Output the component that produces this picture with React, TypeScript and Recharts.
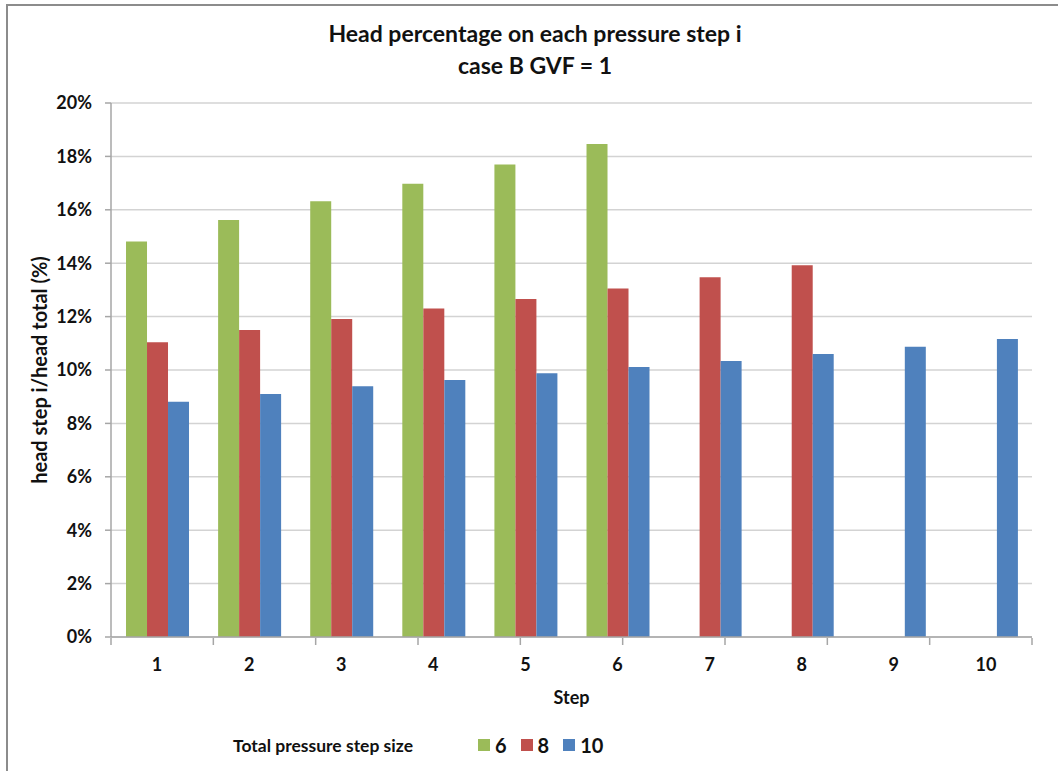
import { Bar, BarChart, CartesianGrid, Legend, XAxis, YAxis } from 'recharts';

const steps = ['1', '2', '3', '4', '5', '6', '7', '8', '9', '10'];
const size6 = [14.81, 15.62, 16.32, 16.98, 17.7, 18.46, null, null, null, null];
const size8 = [11.04, 11.5, 11.91, 12.3, 12.66, 13.05, 13.47, 13.92, null, null];
const size10 = [8.81, 9.1, 9.39, 9.63, 9.88, 10.11, 10.34, 10.6, 10.87, 11.16];
const seriesNames = ['6', '8', '10'];
const yTicks = [0, 2, 4, 6, 8, 10, 12, 14, 16, 18, 20];
const boundaryTicks = [0, 1, 2, 3, 4, 5, 6, 7, 8, 9, 10];

const data = steps.map((s, i) => ({ step: s, s6: size6[i], s8: size8[i], s10: size10[i] }));

const font = 'Lato, "Open Sans", sans-serif';
const axisGray = '#a6a6a6';

function LegendBox({ payload }: any) {
  const items = seriesNames.map((n) => (payload || []).find((p: any) => p.value === n)).filter(Boolean);
  return <div style={{ display: 'flex', alignItems: 'center', fontFamily: font, fontWeight: 700, color: '#111' }}>
    <span style={{ fontSize: 17.5, marginRight: 65 }}>Total pressure step size</span>
    {items.map((p: any) => (
      <span key={p.value} style={{ display: 'flex', alignItems: 'center', marginRight: 14 }}>
        <span style={{ width: 12, height: 12, background: p.color, display: 'inline-block', marginRight: 5 }} />
        <span style={{ fontSize: 20 }}>{p.value}</span>
      </span>
    ))}
  </div>;
}

export default function App() {
  return <div style={{ position: 'absolute', left: 0, top: 0, width: 1058, height: 771, background: '#fff', overflow: 'hidden' }}>
    <div style={{ position: 'absolute', left: 6, top: 4, width: 1100, height: 800, borderTop: '2px solid #8c8c8c', borderLeft: '2px solid #8c8c8c' }} />
    <div style={{ position: 'absolute', left: 0, top: 17, width: 1070, textAlign: 'center', fontFamily: font, fontWeight: 700, fontSize: 23, lineHeight: '32px', color: '#111' }}>
      <div>Head percentage on each pressure step i</div>
      <div>case B GVF = 1</div>
    </div>
    <div style={{ position: 'absolute', left: 0, top: 0 }}>
      <BarChart width={1058} height={771} data={data} margin={{ top: 103, right: 26, bottom: 132, left: 0 }}
        barCategoryGap="16.3%" barGap={0}>
        <CartesianGrid vertical={false} stroke="#d3d3d3" strokeWidth={1.5} />
        <XAxis xAxisId="bounds" type="number" domain={[0, 10]} ticks={boundaryTicks} height={1}
          tickFormatter={() => ''} axisLine={false} tickSize={7} tickLine={{ stroke: axisGray, strokeWidth: 1.5 }} />
        <XAxis dataKey="step" height={1} tickLine={false} tickSize={0} tickMargin={21}
          axisLine={{ stroke: axisGray, strokeWidth: 1.5 }}
          tick={{ fontFamily: font, fontWeight: 700, fontSize: 18, fill: '#111' }}
          label={{ content: ({ viewBox }: any) => <text x={viewBox.x + viewBox.width / 2} y={704} textAnchor="middle"
            style={{ fontFamily: font, fontWeight: 700, fontSize: 18, fill: '#111' }}>Step</text> }} />
        <YAxis width={111} domain={[0, 20]} ticks={yTicks} tickFormatter={(v: number) => `${v}%`}
          tickSize={6} tickMargin={13} tickLine={{ stroke: axisGray, strokeWidth: 1.5 }}
          axisLine={{ stroke: axisGray, strokeWidth: 1.5 }}
          tick={{ fontFamily: font, fontWeight: 700, fontSize: 18, fill: '#111' }}
          label={{ content: ({ viewBox }: any) => <text x={39} y={viewBox.y + viewBox.height / 2} textAnchor="middle"
            dominantBaseline="central" transform={`rotate(-90, 39, ${viewBox.y + viewBox.height / 2})`}
            style={{ fontFamily: font, fontWeight: 700, fontSize: 20, fill: '#111' }}>head step i/head total (%)</text> }} />
        <Legend layout="horizontal" verticalAlign="middle" align="center" content={<LegendBox />}
          wrapperStyle={{ left: 233, top: 733, width: 600, height: 24 }} />
        <Bar dataKey="s6" name="6" fill="#9BBB59" isAnimationActive={false} />
        <Bar dataKey="s8" name="8" fill="#C0504D" isAnimationActive={false} />
        <Bar dataKey="s10" name="10" fill="#4F81BD" isAnimationActive={false} />
      </BarChart>
    </div>
  </div>;
}
